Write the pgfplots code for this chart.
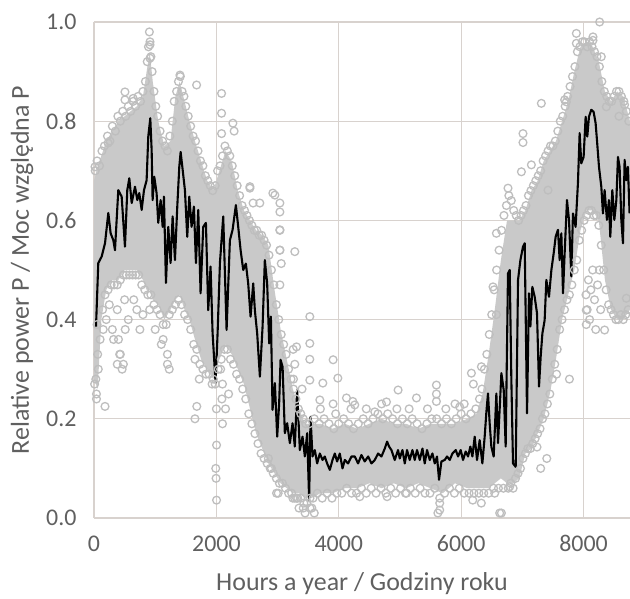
\documentclass[border=0pt]{standalone}
\usepackage{pgfplots}
\pgfplotsset{compat=1.18}
\usepackage{fontspec}
\setmainfont{Carlito}
\definecolor{cgrid}{HTML}{D8D2CE}
\definecolor{cfill}{HTML}{C9C9C9}
\definecolor{cdot}{HTML}{BEBEBE}
\definecolor{ctext}{HTML}{606060}
\begin{document}
\begin{tikzpicture}
\begin{axis}[
  name=ax,
  scale only axis, width=536bp, height=496bp,
  xmin=0, xmax=8760, ymin=0, ymax=1,
  axis line style={draw=none},
  grid=major, major grid style={cgrid, line width=1.1bp},
  major tick length=0pt,
  xtick={0,2000,4000,6000,8000},
  ytick={0,0.2,0.4,0.6,0.8,1.0},
  xticklabels={0,2000,4000,6000,8000},
  yticklabels={0.0,0.2,0.4,0.6,0.8,1.0},
  tick label style={font=\fontsize{24}{28}\selectfont, text=ctext},
  yticklabel style={anchor=east, xshift=-14bp},
  xticklabel style={anchor=north, yshift=-14bp},
  clip=false,
  xlabel={Hours a year / Godziny roku},
  ylabel={Relative power P / Moc względna P},
  label style={font=\fontsize{26}{30}\selectfont, text=ctext},
  xlabel style={at={(axis description cs:0.5,-0.1331)}, anchor=center},
  ylabel style={at={(axis description cs:-0.1343,0.5)}, anchor=center},
]
% dense core of the scatter cloud
\addplot[draw=none, fill=cfill] coordinates {
(0,0.68) (60,0.71) (120,0.73) (200,0.76) (300,0.78) (400,0.80) (500,0.81) (600,0.82) (700,0.83) (800,0.85) (860,0.90) (910,0.94) (960,0.88) (1050,0.80) (1150,0.75) (1250,0.76) (1330,0.85) (1400,0.88) (1480,0.84) (1560,0.80) (1650,0.76) (1750,0.72) (1850,0.68) (1950,0.66) (2050,0.70) (2150,0.74) (2250,0.72) (2350,0.66) (2450,0.62) (2550,0.60) (2650,0.58) (2750,0.57) (2850,0.55) (2950,0.46) (3050,0.38) (3150,0.32) (3250,0.26) (3350,0.22) (3450,0.19) (3550,0.19) (3700,0.19) (3900,0.18) (4100,0.19) (4300,0.18) (4500,0.19) (4700,0.20) (4900,0.19) (5100,0.19) (5300,0.18) (5500,0.19) (5700,0.19) (5900,0.19) (6100,0.20) (6250,0.21) (6350,0.25) (6450,0.33) (6550,0.42) (6650,0.52) (6750,0.60) (6850,0.60) (6950,0.60) (7050,0.62) (7150,0.66) (7250,0.68) (7350,0.72) (7450,0.74) (7550,0.76) (7650,0.80) (7750,0.84) (7850,0.90) (7950,0.95) (8050,0.96) (8150,0.95) (8250,0.92) (8350,0.86) (8450,0.84) (8550,0.86) (8650,0.85) (8760,0.80)
(8760,0.42) (8650,0.40) (8550,0.40) (8450,0.42) (8350,0.48) (8250,0.60) (8150,0.62) (8050,0.62) (7950,0.58) (7850,0.50) (7750,0.45) (7650,0.40) (7550,0.32) (7450,0.25) (7350,0.20) (7250,0.17) (7150,0.14) (7050,0.13) (6950,0.08) (6850,0.07) (6750,0.07) (6650,0.08) (6550,0.07) (6450,0.06) (6300,0.06) (6100,0.06) (5900,0.07) (5700,0.05) (5500,0.06) (5300,0.07) (5100,0.06) (4900,0.07) (4700,0.06) (4500,0.07) (4300,0.06) (4100,0.06) (3900,0.05) (3700,0.05) (3550,0.04) (3450,0.04) (3350,0.05) (3250,0.05) (3150,0.06) (3050,0.07) (2950,0.09) (2850,0.11) (2750,0.14) (2650,0.17) (2550,0.22) (2450,0.27) (2350,0.30) (2250,0.33) (2150,0.35) (2050,0.32) (1950,0.28) (1850,0.30) (1750,0.32) (1650,0.36) (1560,0.40) (1480,0.42) (1400,0.45) (1330,0.44) (1250,0.42) (1150,0.40) (1050,0.43) (960,0.44) (910,0.46) (860,0.46) (800,0.48) (700,0.50) (600,0.50) (500,0.50) (400,0.48) (300,0.48) (200,0.46) (120,0.40) (60,0.26) (0,0.28)
};
% individual hourly points (edges and outliers)
\addplot[only marks, mark=o, mark size=3.9bp, mark options={draw=cdot, line width=1.3bp}] coordinates {
(20,0.70) (50,0.72) (90,0.71) (130,0.74) (170,0.75) (220,0.77) (260,0.76) (300,0.79) (350,0.78) (390,0.81) (430,0.80) (470,0.82) (520,0.81) (560,0.83) (600,0.82) (640,0.84) (680,0.83) (720,0.85) (760,0.84) (800,0.86) (840,0.88) (870,0.92) (890,0.95) (905,0.98) (915,0.96) (930,0.93) (950,0.90) (980,0.86) (1010,0.83) (1040,0.81) (1080,0.78) (1120,0.76) (1160,0.75) (1200,0.74) (1240,0.77) (1280,0.80) (1310,0.84) (1350,0.86) (1380,0.88) (1410,0.89) (1440,0.86) (1470,0.85) (1500,0.83) (1540,0.81) (1580,0.79) (1620,0.77) (1660,0.76) (1700,0.74) (1740,0.72) (1780,0.71) (1820,0.69) (1860,0.68) (1900,0.67) (1940,0.66) (1980,0.67) (2020,0.70) (2060,0.71) (2100,0.73) (2140,0.75) (2180,0.74) (2220,0.73) (2260,0.71) (2300,0.69) (2340,0.67) (2380,0.65) (2420,0.63) (2460,0.62) (2500,0.61) (2540,0.60) (2580,0.59) (2620,0.58) (2660,0.58) (2700,0.57) (2740,0.57) (2780,0.56) (2820,0.55) (2860,0.53) (2900,0.50) (2940,0.47) (2980,0.43) (3020,0.40) (3060,0.37) (3100,0.35) (3140,0.33) (3180,0.30) (3220,0.28) (3260,0.26) (3300,0.24) (3340,0.22) (3380,0.21) (3420,0.20) (3460,0.19)
(10,0.27) (40,0.25) (70,0.30) (100,0.36) (140,0.42) (180,0.45) (230,0.46) (280,0.47) (330,0.47) (380,0.47) (430,0.48) (480,0.49) (530,0.49) (580,0.49) (630,0.49) (680,0.49) (730,0.49) (780,0.47) (830,0.46) (880,0.45) (930,0.45) (980,0.43) (1030,0.42) (1080,0.41) (1130,0.39) (1180,0.39) (1230,0.41) (1280,0.42) (1330,0.43) (1380,0.44) (1430,0.43) (1480,0.41) (1530,0.40) (1580,0.38) (1630,0.35) (1680,0.34) (1730,0.31) (1780,0.30) (1830,0.29) (1880,0.29) (1930,0.27) (1980,0.27) (2030,0.30) (2080,0.32) (2130,0.34) (2180,0.34) (2230,0.32) (2280,0.31) (2330,0.29) (2380,0.28) (2430,0.26) (2480,0.24) (2530,0.21) (2580,0.19) (2630,0.17) (2680,0.15) (2730,0.13) (2780,0.12) (2830,0.11) (2880,0.10) (2930,0.09) (2980,0.08) (3030,0.07) (3080,0.07) (3130,0.06) (3180,0.05) (3230,0.05) (3280,0.04) (3330,0.04) (3380,0.04) (3430,0.03) (3480,0.03) (3530,0.04) (3580,0.04)
(3650,0.05) (3730,0.04) (3810,0.05) (3890,0.04) (3970,0.05) (4050,0.05) (4130,0.06) (4210,0.05) (4290,0.05) (4370,0.06) (4450,0.05) (4530,0.06) (4610,0.05) (4690,0.06) (4770,0.05) (4850,0.06) (4930,0.05) (5010,0.06) (5090,0.05) (5170,0.06) (5250,0.05) (5330,0.06) (5410,0.05) (5490,0.05) (5570,0.06) (5650,0.04) (5730,0.05) (5810,0.06) (5890,0.05) (5970,0.06) (6050,0.05) (6130,0.05) (6210,0.05) (6290,0.05) (6370,0.05) (6450,0.05) (6530,0.06) (6610,0.06) (6690,0.06) (6770,0.06)
(3520,0.19) (3600,0.20) (3680,0.19) (3760,0.20) (3840,0.19) (3920,0.18) (4000,0.19) (4080,0.20) (4160,0.19) (4240,0.18) (4320,0.19) (4400,0.20) (4480,0.19) (4560,0.20) (4640,0.21) (4720,0.20) (4800,0.21) (4880,0.20) (4960,0.19) (5040,0.20) (5120,0.19) (5200,0.20) (5280,0.19) (5360,0.18) (5440,0.19) (5520,0.20) (5600,0.20) (5680,0.19) (5760,0.20) (5840,0.19) (5920,0.20) (6000,0.21) (6080,0.20) (6160,0.21) (6240,0.22) (6300,0.24)
(3700,0.22) (3950,0.21) (4200,0.22) (4450,0.22) (4700,0.23) (4950,0.22) (5150,0.22) (5450,0.22) (5750,0.22) (5900,0.23) (6050,0.23)
(6340,0.26) (6380,0.30) (6420,0.33) (6460,0.37) (6500,0.41) (6540,0.46) (6580,0.50) (6620,0.54) (6660,0.58) (6700,0.61) (6740,0.63) (6780,0.65) (6820,0.64) (6860,0.62) (6900,0.61) (6940,0.60) (6980,0.61) (7020,0.62) (7060,0.63) (7100,0.65) (7140,0.66) (7180,0.67) (7220,0.68) (7260,0.69) (7300,0.70) (7340,0.72) (7380,0.73) (7420,0.74) (7460,0.75) (7500,0.75) (7540,0.76) (7580,0.78) (7620,0.80) (7660,0.81) (7700,0.83) (7740,0.85) (7780,0.87) (7820,0.89) (7860,0.91) (7900,0.94) (7940,0.95) (7980,0.96) (8020,0.96) (8060,0.95) (8100,0.96) (8140,0.95) (8180,0.94) (8220,0.93) (8260,0.91) (8300,0.88) (8340,0.86) (8380,0.85) (8420,0.84) (8460,0.84) (8500,0.85) (8540,0.86) (8580,0.86) (8620,0.85) (8660,0.84) (8700,0.82) (8740,0.80)
(6810,0.07) (6850,0.06) (6890,0.08) (6930,0.09) (6970,0.10) (7010,0.12) (7050,0.13) (7090,0.14) (7130,0.14) (7170,0.15) (7210,0.16) (7250,0.17) (7290,0.18) (7330,0.20) (7370,0.21) (7410,0.23) (7450,0.25) (7490,0.28) (7530,0.31) (7570,0.34) (7610,0.38) (7650,0.40) (7690,0.42) (7730,0.44) (7770,0.45) (7810,0.47) (7850,0.50) (7890,0.52) (7930,0.56) (7970,0.58) (8010,0.60) (8050,0.61) (8090,0.62) (8130,0.62) (8170,0.61) (8210,0.61) (8250,0.59) (8290,0.55) (8330,0.50) (8370,0.46) (8410,0.43) (8450,0.42) (8490,0.41) (8530,0.40) (8570,0.40) (8610,0.41) (8650,0.40) (8690,0.41) (8730,0.42)
(8040,0.45) (8060,0.42) (8080,0.48) (8100,0.40) (8120,0.46) (8150,0.50) (8180,0.44) (8200,0.38) (8230,0.47) (8260,0.50) (8280,0.42)
(150,0.38) (200,0.40) (250,0.43) (300,0.38) (320,0.36) (380,0.31) (420,0.33) (460,0.30) (500,0.44) (560,0.40) (650,0.44) (700,0.42) (750,0.38) (800,0.41) (380,0.42) (400,0.36) (430,0.33) (480,0.31) (510,0.38) (910,0.42) (1000,0.38) (1100,0.35) (1200,0.31)
(50,0.39) (60,0.33) (30,0.28) (40,0.24) (180,0.225) (1130,0.36) (1200,0.33) (1230,0.30) (1650,0.32) (1720,0.28) (1680,0.225) (1650,0.20) (1950,0.28) (2000,0.22) (2100,0.19) (2003,0.147) (1990,0.10) (1995,0.08) (2003,0.036) (2070,0.30) (2100,0.27) (2090,0.24) (2150,0.22) (2200,0.25)
(2548,0.668) (2923,0.655) (2600,0.635) (2710,0.635) (3038,0.617) (3038,0.581) (3282,0.537) (3038,0.54) (3060,0.513) (3038,0.47) (3527,0.406) (3527,0.352) (3310,0.345) (3527,0.32) (3908,0.319) (3527,0.278) (3740,0.272) (3985,0.282) (3691,0.238) (4126,0.242) (3908,0.23) (4230,0.235) (3255,0.34) (3282,0.31) (3260,0.28) (3400,0.26)
(2850,0.12) (2900,0.10) (2983,0.05) (3010,0.05) (3250,0.04) (3310,0.04) (3350,0.02) (3420,0.02) (3450,0.01) (3530,0.02) (3560,0.02) (3600,0.01)
(4262,0.228) (4589,0.214) (4780,0.234) (4970,0.258) (5270,0.242) (5596,0.268) (5596,0.25) (5596,0.235) (6168,0.292) (6331,0.305) (6200,0.27) (5977,0.224) (5650,0.016) (5650,0.03) (5620,0.01) (6630,0.01) (4344,0.043) (4790,0.043) (5107,0.05) (6190,0.036) (6330,0.03)
(8264,1.0) (7311,0.836) (7720,0.839) (7011,0.775) (7011,0.757) (7148,0.712) (6985,0.698) (6766,0.665) (6576,0.574) (6521,0.466) (7420,0.661) (8373,0.829) (8671,0.833) (8580,0.81) (7883,0.977) (7883,0.957) (8155,0.97) (8155,0.963) (8291,0.93) (7692,0.843)
(915,0.954) (915,0.927) (1405,0.893) (1677,0.873) (2085,0.856) (2085,0.816) (2085,0.775) (506,0.859) (506,0.843) (640,0.846) (230,0.756) (16,0.708) (2270,0.796) (2290,0.78) (2548,0.665) (2956,0.651) (3038,0.635) (3038,0.58) (3038,0.54)
(8045,0.419) (8045,0.39) (8345,0.379) (8700,0.443) (6549,0.05) (6658,0.01) (6794,0.063) (7240,0.143) (7300,0.10) (7400,0.12) (7560,0.29) (7770,0.28) (6576,0.41)
};
% moving average
\addplot[black, line width=2.1bp, line join=round] coordinates {
(33,0.386) (70,0.514) (125,0.527) (180,0.554) (234,0.615) (272,0.574) (316,0.560) (343,0.540) (397,0.661) (452,0.648) (506,0.547) (544,0.661) (577,0.685) (616,0.635) (670,0.668) (708,0.641) (740,0.655) (779,0.621) (817,0.661) (860,0.681) (887,0.769) (920,0.806) (942,0.742) (958,0.641) (985,0.688) (1023,0.655) (1050,0.595) (1089,0.641) (1122,0.587) (1143,0.648) (1176,0.474) (1214,0.587) (1252,0.514) (1285,0.608) (1323,0.520) (1361,0.628) (1394,0.708) (1416,0.738) (1449,0.702) (1486,0.661) (1524,0.567) (1557,0.648) (1595,0.587) (1633,0.628) (1666,0.514) (1704,0.621) (1742,0.453) (1785,0.587) (1829,0.595) (1867,0.419) (1905,0.507) (1938,0.373) (1987,0.272) (2020,0.373) (2058,0.514) (2112,0.608) (2167,0.379) (2221,0.560) (2265,0.581) (2319,0.631) (2357,0.587) (2396,0.540) (2439,0.500) (2482,0.513) (2520,0.473) (2559,0.406) (2602,0.473) (2629,0.419) (2667,0.372) (2711,0.285) (2755,0.386) (2792,0.520) (2830,0.473) (2863,0.352) (2891,0.406) (2918,0.218) (2956,0.272) (2994,0.164) (3026,0.231) (3049,0.319) (3082,0.305) (3119,0.171) (3157,0.191) (3201,0.151) (3245,0.191) (3282,0.144) (3320,0.258) (3364,0.137) (3408,0.164) (3446,0.124) (3484,0.171) (3516,0.036) (3539,0.204) (3571,0.124) (3609,0.137) (3647,0.110) (3691,0.130) (3735,0.117) (3772,0.124) (3810,0.110) (3854,0.097) (3898,0.117) (3936,0.130) (3973,0.114) (4017,0.130) (4061,0.100) (4099,0.117) (4153,0.110) (4208,0.124) (4262,0.124) (4316,0.110) (4371,0.127) (4425,0.114) (4480,0.124) (4535,0.110) (4589,0.117) (4643,0.130) (4698,0.124) (4752,0.140) (4790,0.154) (4823,0.144) (4861,0.137) (4915,0.117) (4969,0.137) (4997,0.120) (5041,0.137) (5079,0.110) (5116,0.137) (5160,0.117) (5204,0.137) (5242,0.117) (5279,0.137) (5324,0.117) (5368,0.140) (5405,0.110) (5443,0.137) (5487,0.117) (5531,0.130) (5569,0.110) (5606,0.124) (5639,0.077) (5678,0.114) (5732,0.117) (5770,0.124) (5814,0.117) (5858,0.130) (5912,0.137) (5950,0.124) (5993,0.137) (6031,0.117) (6075,0.134) (6113,0.124) (6151,0.144) (6184,0.124) (6222,0.164) (6260,0.117) (6303,0.157) (6347,0.110) (6385,0.164) (6413,0.214) (6439,0.251) (6467,0.190) (6494,0.144) (6532,0.124) (6576,0.251) (6603,0.151) (6658,0.292) (6696,0.258) (6728,0.144) (6766,0.493) (6794,0.500) (6821,0.278) (6848,0.110) (6892,0.103) (6930,0.480) (6969,0.520) (7011,0.547) (7039,0.554) (7077,0.211) (7109,0.453) (7132,0.386) (7164,0.466) (7202,0.446) (7240,0.413) (7273,0.265) (7300,0.325) (7328,0.372) (7365,0.399) (7393,0.480) (7436,0.446) (7475,0.500) (7513,0.534) (7545,0.567) (7583,0.581) (7610,0.520) (7638,0.574) (7665,0.453) (7692,0.534) (7730,0.641) (7763,0.601) (7801,0.487) (7828,0.614) (7871,0.587) (7909,0.675) (7937,0.776) (7964,0.715) (8002,0.728) (8035,0.809) (8062,0.769) (8089,0.809) (8127,0.823) (8165,0.819) (8198,0.796) (8220,0.762) (8253,0.708) (8291,0.668) (8318,0.614) (8345,0.661) (8383,0.601) (8416,0.641) (8438,0.567) (8471,0.661) (8504,0.601) (8537,0.641) (8563,0.728) (8590,0.708) (8618,0.601) (8645,0.554) (8672,0.722) (8700,0.681) (8726,0.708) (8753,0.614)
};
\end{axis}
\pgfresetboundingbox
\path ([shift={(-94bp,-81bp)}]ax.south west) rectangle ([shift={(0bp,22bp)}]ax.north east);
\end{tikzpicture}
\end{document}
